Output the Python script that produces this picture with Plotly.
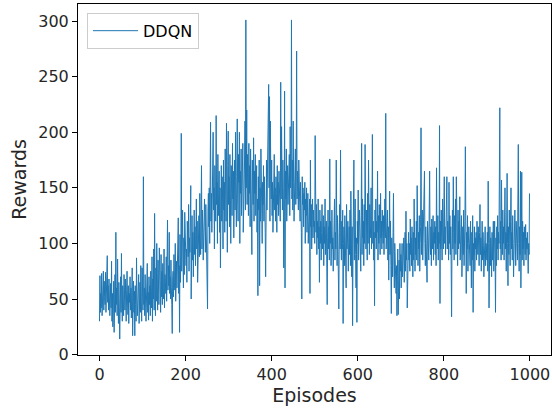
import plotly.graph_objects as go

series_name = "DDQN"
x_label = "Episodes"
y_label = "Rewards"
x_ticks = [0, 200, 400, 600, 800, 1000]
y_ticks = [0, 50, 100, 150, 200, 250, 300]

rewards = [
    30, 71, 38, 55, 42, 73, 35, 60, 48, 75, 40, 66, 52, 45, 74, 38, 58, 44, 89, 47,
    62, 40, 68, 50, 35, 58, 64, 42, 84, 30, 55, 25, 48, 66, 20, 52, 72, 38, 110, 45,
    60, 35, 86, 50, 28, 65, 42, 14, 58, 70, 38, 91, 45, 30, 62, 48, 35, 72, 55, 40,
    68, 44, 30, 58, 75, 50, 36, 62, 28, 55, 47, 70, 40, 60, 33, 52, 78, 17, 48, 66,
    38, 57, 17, 62, 45, 30, 87, 50, 35, 60, 42, 72, 28, 55, 65, 38, 80, 48, 30, 78,
    52, 40, 160, 45, 60, 35, 72, 50, 30, 65, 48, 82, 38, 56, 31, 70, 45, 62, 35, 75,
    55, 42, 88, 30, 68, 50, 95, 40, 127, 60, 35, 78, 48, 100, 55, 40, 85, 62, 45, 96,
    58, 70, 38, 90, 52, 75, 45, 82, 60, 50, 95, 42, 72, 65, 55, 88, 48, 70, 121, 58,
    80, 62, 110, 55, 70, 50, 85, 60, 45, 19, 68, 75, 52, 90, 65, 58, 100, 48, 72, 84,
    60, 95, 70, 123, 55, 80, 20, 108, 65, 90, 199, 75, 115, 130, 85, 60, 105, 72, 128, 90,
    110, 80, 95, 65, 120, 100, 88, 135, 75, 105, 92, 115, 152, 50, 98, 125, 85, 110, 70, 100,
    130, 90, 115, 80, 105, 140, 95, 120, 65, 110, 100, 125, 88, 145, 105, 90, 118, 170, 95, 130,
    110, 85, 125, 100, 140, 115, 92, 135, 108, 120, 82, 41, 130, 145, 115, 150, 100, 135, 209, 120,
    145, 110, 160, 125, 200, 130, 150, 95, 170, 140, 120, 215, 135, 155, 100, 180, 125, 145, 165, 110,
    150, 78, 135, 170, 120, 160, 140, 95, 175, 130, 155, 110, 185, 140, 120, 208, 150, 92, 170, 201,
    135, 160, 115, 180, 145, 100, 170, 150, 125, 190, 140, 165, 105, 155, 175, 130, 200, 145, 115, 160,
    212, 140, 120, 180, 155, 200, 100, 165, 145, 185, 125, 170, 150, 190, 110, 160, 140, 175, 210, 130,
    301, 150, 220, 135, 180, 160, 125, 190, 145, 170, 115, 185, 140, 160, 90, 175, 150, 135, 195, 120,
    165, 145, 180, 125, 155, 170, 110, 140, 53, 160, 130, 175, 62, 150, 120, 185, 140, 165, 100, 155,
    135, 170, 120, 160, 145, 110, 70, 155, 175, 130, 165, 140, 200, 243, 150, 232, 120, 210, 160, 140,
    175, 125, 155, 110, 165, 140, 180, 130, 150, 120, 160, 145, 110, 170, 135, 155, 125, 165, 140, 150,
    120, 245, 140, 205, 160, 130, 175, 150, 78, 110, 237, 60, 165, 140, 185, 120, 155, 170, 135, 160,
    145, 180, 125, 205, 150, 165, 301, 140, 175, 130, 210, 155, 120, 170, 145, 185, 135, 160, 273, 140,
    165, 150, 130, 175, 145, 160, 120, 155, 140, 110, 50, 160, 135, 150, 115, 145, 130, 155, 100, 140,
    125, 150, 110, 135, 145, 100, 130, 120, 140, 55, 175, 115, 135, 95, 125, 140, 105, 130, 115, 120,
    100, 197, 125, 110, 135, 90, 120, 105, 140, 95, 115, 65, 130, 100, 120, 85, 110, 135, 95, 105,
    125, 80, 115, 100, 140, 90, 110, 120, 75, 45, 105, 130, 95, 115, 85, 176, 100, 120, 80, 110,
    130, 95, 105, 75, 120, 100, 140, 85, 110, 95, 175, 115, 80, 125, 100, 90, 41, 110, 135, 95,
    184, 105, 85, 120, 95, 130, 28, 100, 115, 80, 125, 90, 110, 60, 135, 95, 105, 120, 75, 100,
    115, 90, 130, 80, 147, 100, 70, 115, 26, 95, 120, 175, 85, 110, 140, 90, 60, 105, 29, 120,
    100, 148, 85, 115, 130, 95, 110, 75, 125, 190, 90, 140, 105, 120, 80, 135, 100, 189, 115, 95,
    130, 110, 85, 145, 100, 175, 120, 90, 135, 105, 115, 150, 95, 125, 198, 100, 120, 85, 110, 44,
    130, 105, 140, 95, 120, 110, 165, 85, 125, 100, 135, 115, 90, 145, 105, 120, 95, 130, 110, 100,
    125, 90, 115, 140, 105, 217, 95, 120, 110, 130, 85, 115, 67, 100, 147, 90, 120, 80, 37, 105,
    95, 70, 110, 145, 85, 60, 100, 75, 90, 55, 80, 35, 70, 95, 36, 65, 85, 50, 100, 75,
    90, 60, 85, 100, 70, 95, 80, 105, 65, 90, 110, 75, 129, 85, 100, 42, 95, 70, 110, 85,
    100, 75, 122, 90, 105, 80, 115, 95, 70, 110, 85, 140, 95, 75, 105, 90, 120, 85, 152, 100,
    80, 110, 95, 125, 75, 100, 115, 204, 90, 105, 130, 85, 110, 95, 120, 165, 100, 80, 115, 90,
    105, 65, 120, 95, 110, 85, 130, 165, 100, 90, 115, 80, 122, 105, 95, 125, 85, 110, 100, 120,
    90, 115, 80, 168, 105, 95, 125, 85, 110, 100, 206, 46, 120, 95, 130, 105, 85, 140, 110, 95,
    125, 160, 100, 115, 90, 135, 105, 160, 95, 120, 110, 85, 155, 100, 125, 90, 115, 80, 34, 105,
    130, 95, 160, 110, 85, 125, 100, 140, 90, 160, 115, 105, 80, 130, 95, 120, 100, 142, 85, 110,
    95, 125, 70, 105, 115, 90, 130, 80, 100, 120, 187, 85, 55, 110, 95, 125, 75, 100, 115, 90,
    105, 80, 120, 95, 60, 110, 85, 125, 38, 100, 90, 115, 75, 105, 95, 110, 85, 120, 100, 90,
    115, 95, 80, 110, 135, 90, 105, 75, 100, 120, 85, 110, 95, 70, 105, 90, 115, 80, 100, 95,
    85, 110, 75, 156, 100, 42, 90, 115, 80, 105, 95, 70, 110, 85, 100, 120, 75, 95, 120, 90,
    38, 105, 80, 115, 95, 125, 85, 110, 100, 140, 222, 95, 120, 85, 157, 105, 90, 130, 100, 115,
    85, 125, 150, 95, 110, 75, 120, 163, 100, 62, 115, 90, 130, 105, 80, 120, 150, 95, 110, 85,
    125, 100, 70, 115, 90, 130, 105, 80, 120, 95, 110, 85, 140, 189, 100, 75, 115, 90, 165, 60,
    105, 164, 85, 120, 95, 110, 80, 115, 100, 90, 117, 85, 105, 95, 110, 80, 73, 100, 90, 145,
]
episodes = list(range(len(rewards)))

fig = go.Figure()
fig.add_trace(go.Scatter(
    x=episodes, y=rewards, mode="lines", name=series_name,
    line=dict(color="#1f77b4", width=1),
))

font = dict(family="DejaVu Sans", size=16, color="#262626")
n = len(rewards) - 1
xpad = 0.05 * n
ymin, ymax = min(rewards), max(rewards)
ypad = 0.05 * (ymax - ymin)

fig.update_layout(
    width=552, height=409,
    margin=dict(l=78, r=1, t=4, b=54),
    paper_bgcolor="white", plot_bgcolor="white",
    font=font,
    showlegend=True,
    legend=dict(
        x=0.019, y=0.975, xanchor="left", yanchor="top",
        bgcolor="rgba(255,255,255,0.8)", bordercolor="#cccccc", borderwidth=1,
        itemwidth=45,
        font=dict(family="DejaVu Sans", size=16, color="#000000"),
    ),
    xaxis=dict(
        range=[-xpad, n + xpad], tickvals=x_ticks, ticktext=[str(v) for v in x_ticks],
        showgrid=False, zeroline=False, showline=True, linecolor="#000000", linewidth=1,
        mirror=True, ticks="outside", ticklen=5, tickcolor="#000000",
        title=dict(text=x_label, standoff=4), tickfont=font,
    ),
    yaxis=dict(
        range=[ymin - ypad, ymax + ypad], tickvals=y_ticks, ticktext=[str(v) for v in y_ticks],
        showgrid=False, zeroline=False, showline=True, linecolor="#000000", linewidth=1,
        mirror=True, ticks="outside", ticklen=5, tickcolor="#000000",
        title=dict(text=y_label, standoff=6), tickfont=font,
    ),
)

fig.write_html(
    "out.html",
    config={"displayModeBar": False},
    post_script="document.body.style.margin='0';document.body.style.overflow='hidden';",
)
